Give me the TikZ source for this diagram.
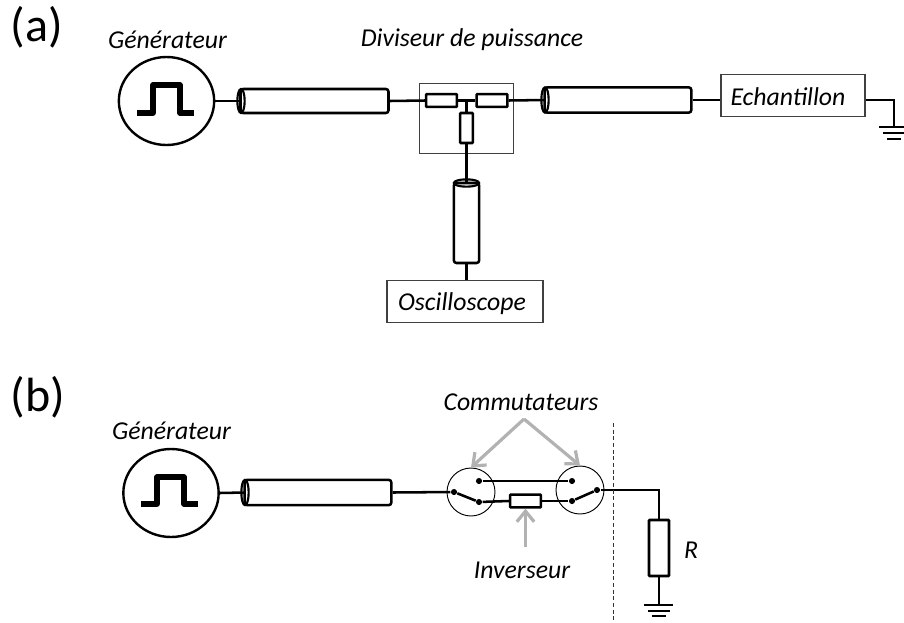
\documentclass[tikz,border=0pt]{standalone}
\usepackage{fontspec}
\setmainfont{Carlito}
\usetikzlibrary{arrows.meta,shapes.geometric}
\tikzset{every picture/.style={line width=0.75pt}}
\tikzset{
  wire/.style={line width=1.9pt},
  genbox/.style={draw,ellipse,line width=1.8pt,inner sep=0pt,minimum width=71.5pt,minimum height=66pt},
  pulse/.style={line width=3.8pt,line join=round},
  cable/.style={draw,rectangle,rounded corners=2pt,line width=1.9pt,inner sep=0pt},
  cableend/.style={draw,ellipse,line width=1.6pt,inner sep=0pt},
  resist/.style={draw,rectangle,rounded corners=0.5pt,line width=1.9pt,inner sep=0pt},
  thinbox/.style={draw=black!75,rectangle,line width=0.8pt,inner sep=0pt},
  swcircle/.style={draw,circle,line width=0.7pt,inner sep=0pt,minimum size=36pt},
  contact/.style={fill,circle,inner sep=0pt,minimum size=4.6pt},
  label/.style={inner sep=0pt,font=\fontsize{19.3}{23}\selectfont\itshape},
  panel/.style={inner sep=0pt,font=\fontsize{36}{42}\selectfont},
  grayarrow/.style={draw=black!30,line width=2.4pt,-{Straight Barb[length=8pt,width=13pt,line width=2.4pt]}}
}
\begin{document}
\begin{tikzpicture}[x=0.75pt,y=0.75pt,yscale=-1,xscale=1]
\useasboundingbox (0,0) rectangle (904,622);

% Panel (a)
\node (panelA) [panel] at (37,27) {(a)};
\node (genlabelA) [label] at (167.5,40) {Générateur};
\node (divlabel) [label] at (472,40) {Diviseur de puissance};
\node (genA) [genbox] at (166.5,101) {};
\draw [pulse] (137,113) -- (153,113) -- (153,85) -- (180,85) -- (180,113) -- (194,113);
% Cables
\node (cabA) [cable,minimum width=111pt,minimum height=18pt] at (314.5,101) {};
\node (cabAend) [cableend,minimum width=5.5pt,minimum height=18pt] at (241,101) {};
\node (cabC) [cable,minimum width=110pt,minimum height=19pt] at (618,100) {};
\node (cabCend) [cableend,minimum width=5.5pt,minimum height=19pt] at (545,100) {};
\node (cabD) [cable,minimum width=19pt,minimum height=60pt] at (466.5,223) {};
\node (cabDend) [cableend,minimum width=19pt,minimum height=5.5pt] at (466.5,183) {};
% Divider
\node (divbox) [thinbox,minimum width=70pt,minimum height=52pt] at (466.5,118.5) {};
\node (resA) [resist,minimum width=23pt,minimum height=9.5pt] at (441.5,100.5) {};
\node (resB) [resist,minimum width=23pt,minimum height=9.5pt] at (492,100.5) {};
\node (resC) [resist,minimum width=9.5pt,minimum height=22.5pt] at (466.5,128) {};
% Boxes
\node (echant) [thinbox,minimum width=108pt,minimum height=31pt,label] at (793,95.5) {};
\node [label] at (788,97) {Echantillon};
\node (oscillo) [thinbox,minimum width=117pt,minimum height=31pt] at (465,301.5) {};
\node [label] at (462,304) {Oscilloscope};
\coordinate (gndA) at (894,127);
% Wires
\draw [wire] (genA.east) -- (cabAend.center);
\draw [wire] (cabA.east) -- (resA.west);
\draw [wire] (resA.east) -- (resB.west);
\draw [wire] (resB.east) -- (cabCend.center);
\draw [wire] (resC.north |- resA.east) -- (resC.north);
\draw [wire] (resC.south) -- (cabDend.center);
\draw [wire] (cabD.south) -- (cabD.south |- oscillo.north);
\draw [wire] (cabC.east) -- (echant.west |- cabC.east);
\draw [wire] (echant.east |- cabC.east) -| (gndA);
% Ground
\draw [wire] (gndA) ++(-15,0) -- ++(25,0);
\draw [wire] (gndA) ++(-11,6) -- ++(21,0);
\draw [wire] (gndA) ++(-7,12) -- ++(14,0);

% Panel (b)
\node (panelB) [panel] at (38,397) {(b)};
\node (genlabelB) [label] at (171.5,431) {Générateur};
\node (comlabel) [label] at (521,402) {Commutateurs};
\node (invlabel) [label] at (522,570) {Inverseur};
\node (genB) [genbox] at (171,493) {};
\draw [pulse] (141,504) -- (157,504) -- (157,477) -- (184,477) -- (184,504) -- (198,504);
\node (cabB) [cable,minimum width=110pt,minimum height=19pt] at (318,492.5) {};
\node (cabBend) [cableend,minimum width=5.5pt,minimum height=19pt] at (245,492.5) {};
% Switches
\node (swL) [swcircle] at (471,492) {};
\node (swR) [swcircle] at (580,490) {};
\node (dotA) [contact] at (454,492) {};
\node (dotB) [contact] at (479,502) {};
\node (dotC) [contact] at (479,481) {};
\node (dotD) [contact] at (572,481) {};
\node (dotE) [contact] at (572,501) {};
\node (dotF) [contact] at (597,490) {};
\node (resInv) [resist,minimum width=23pt,minimum height=9.5pt] at (525.5,501) {};
\node (resLoad) [resist,minimum width=15pt,minimum height=42pt] at (659,548) {};
\node (rlabel) [label] at (691,550) {R};
\coordinate (gndB) at (659,605);
% Wires
\draw [wire] (genB.east) -- (cabBend.center);
\draw [wire] (cabB.east) -- (dotA);
\draw [wire] (dotA) -- (dotB);
\draw [wire] (dotB) -- (resInv.west);
\draw [wire] (resInv.east) -- (dotE);
\draw [wire] (dotE) -- (dotF);
\draw [wire] (dotC) -- (dotD);
\draw [wire] (dotF) -| (resLoad.north);
\draw [wire] (resLoad.south) -- (gndB);
% Ground
\draw [wire] (gndB) ++(-15,0) -- ++(29,0);
\draw [wire] (gndB) ++(-11,6) -- ++(22,0);
\draw [wire] (gndB) ++(-7,11) -- ++(14,0);
% Separator
\coordinate (septop) at (613,423);
\coordinate (sepbot) at (613,622);
\draw [dash pattern={on 3pt off 2pt},line width=0.75pt,black!80] (septop) -- (sepbot);
% Gray arrows
\coordinate (comapex) at (524,419);
\coordinate (invtail) at (525.5,547);
\draw [grayarrow] (comapex) -- (swL.north);
\draw [grayarrow] (comapex) -- (swR.north);
\draw [grayarrow] (invtail) -- (resInv.south);

\end{tikzpicture}
\end{document}
